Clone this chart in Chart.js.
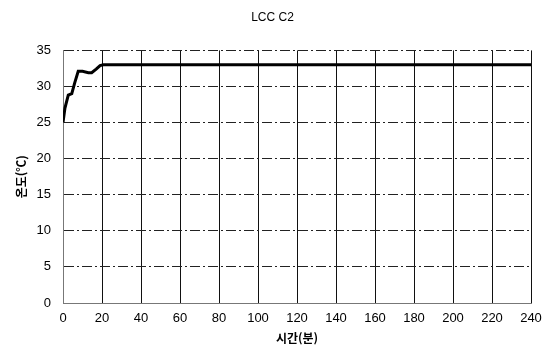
<!DOCTYPE html>
<html lang="ko">
<head>
    <meta charset="UTF-8">
    <script src="https://cdn.jsdelivr.net/npm/chart.js"></script>
    <style>
        html, body { margin: 0; padding: 0; background: #fff; }
        #wrap { width: 556px; height: 351px; }
    </style>
</head>
<body>
    <div id="wrap"><canvas id="chart"></canvas></div>

    <script>
        // time (min) and temperature (C)
        const times = [0, 1, 2.7, 4.5, 6, 7.8, 10, 13, 14.7, 17, 19, 20.7, 30, 60, 120, 180, 240];
        const temps = [25, 27, 28.8, 29, 30.5, 32.1, 32.1, 31.9, 31.9, 32.4, 32.9, 33, 33, 33, 33, 33, 33];
        const xTicks = [0, 20, 40, 60, 80, 100, 120, 140, 160, 180, 200, 220, 240];
        const yTicks = [0, 5, 10, 15, 20, 25, 30, 35];

        const pts = times.map((t, i) => ({ x: t, y: temps[i] }));
        const tickFont = { family: 'Liberation Sans, Arial, sans-serif', size: 13 };

        const ctx = document.getElementById('chart').getContext('2d');
        new Chart(ctx, {
            type: 'line',
            data: {
                datasets: [{
                    data: pts,
                    borderColor: '#000',
                    borderWidth: 3,
                    pointRadius: 0,
                    tension: 0
                }]
            },
            options: {
                responsive: true,
                maintainAspectRatio: false,
                animation: false,
                layout: { padding: { left: 14, right: 25, top: 0, bottom: 5 } },
                plugins: {
                    legend: { display: false },
                    tooltip: { enabled: false },
                    title: {
                        display: true,
                        text: 'LCC C2',
                        color: '#000',
                        font: { family: 'Liberation Sans, Arial, sans-serif', size: 12, weight: 'normal' },
                        padding: { top: 10, bottom: 26 }
                    }
                },
                scales: {
                    x: {
                        type: 'linear',
                        min: 0,
                        max: 240,
                        afterBuildTicks: ax => { ax.ticks = xTicks.map(v => ({ value: v })); },
                        ticks: { color: '#000', font: tickFont, padding: 8, maxRotation: 0 },
                        grid: { color: '#111', lineWidth: 1, drawTicks: false },
                        border: { color: '#777', width: 1 },
                        title: {
                            display: true,
                            text: '시간(분)',
                            color: '#000',
                            font: { family: 'Noto Sans CJK KR, sans-serif', size: 12, weight: 'bold' },
                            padding: { top: -3, bottom: 0 }
                        }
                    },
                    y: {
                        min: 0,
                        max: 35,
                        afterBuildTicks: ax => { ax.ticks = yTicks.map(v => ({ value: v })); },
                        afterFit: ax => { ax.width = 49; },
                        ticks: { color: '#000', font: tickFont, padding: 12 },
                        grid: { color: '#222', lineWidth: 1, drawTicks: false },
                        border: { color: '#777', width: 1, dash: [10, 3, 2, 3] },
                        title: {
                            display: true,
                            text: '온도(℃)',
                            color: '#000',
                            font: { family: 'Noto Sans CJK KR, sans-serif', size: 12, weight: 'bold' },
                            padding: { top: 0, bottom: 0 }
                        }
                    }
                }
            }
        });
    </script>
</body>
</html>
